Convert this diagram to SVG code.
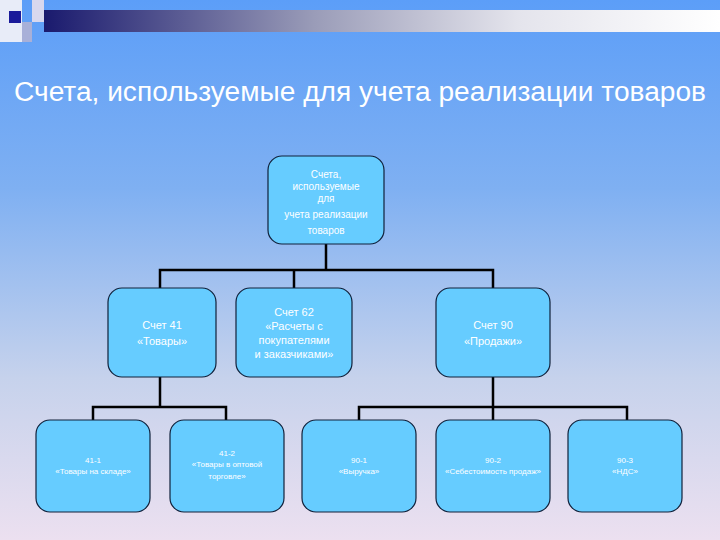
<svg xmlns="http://www.w3.org/2000/svg" width="720" height="540" viewBox="0 0 720 540">
<defs>
<linearGradient id="bg" x1="0" y1="0" x2="0" y2="1">
<stop offset="0" stop-color="#5c9ef8"/><stop offset="0.35" stop-color="#7fb0f2"/><stop offset="0.7" stop-color="#c6d2ec"/><stop offset="1" stop-color="#ece0f0"/>
</linearGradient>
<linearGradient id="bar" x1="0" y1="0" x2="1" y2="0">
<stop offset="0" stop-color="#1a1a6e"/><stop offset="0.4" stop-color="#9a9cb8"/><stop offset="0.7" stop-color="#e4e4ec"/><stop offset="1" stop-color="#ffffff"/>
</linearGradient>
<style>
.n rect{fill:#66ccff;stroke:#10203a;stroke-width:1.2}
.n text{fill:#ffffff;font-family:"Liberation Sans",Arial,sans-serif;text-anchor:middle}
.c path{fill:none;stroke:#000;stroke-width:2.5}
</style>
</defs>
<rect width="720" height="540" fill="url(#bg)"/>
<rect x="0" y="0" width="22" height="42" fill="#e8ecf8"/>
<rect x="9" y="11" width="12" height="12" fill="#1a1a9a"/>
<rect x="32" y="0" width="12" height="22" fill="#d8d8ee"/>
<rect x="22" y="22" width="10" height="20" fill="#a8b0d8"/>
<rect x="44" y="10" width="676" height="22" fill="url(#bar)"/>
<text x="360" y="101" font-family="Liberation Sans,Arial,sans-serif" font-size="27" fill="#fff" text-anchor="middle" textLength="692" lengthAdjust="spacingAndGlyphs">Счета, используемые для учета реализации товаров</text>
<g class="c">
<path d="M326 244V270M160 288V270H493V288M294 270V288"/>
<path d="M160 377V407M93 420V407H226V420"/>
<path d="M493 377V407M359 420V407H627V420M493 407V420"/>
</g>
<g id="top" class="n"><rect x="268" y="156" width="116" height="88" rx="14"/>
<text font-size="10"><tspan x="326" y="178">Счета,</tspan><tspan x="326" y="190">используемые</tspan><tspan x="326" y="202">для</tspan><tspan x="326" y="218">учета реализации</tspan><tspan x="326" y="234">товаров</tspan></text></g>
<g id="s41" class="n"><rect x="108" y="288" width="108" height="89" rx="14"/>
<text font-size="11"><tspan x="162" y="329">Счет 41</tspan><tspan x="162" y="345">«Товары»</tspan></text></g>
<g id="s62" class="n"><rect x="236" y="288" width="116" height="89" rx="14"/>
<text font-size="11"><tspan x="294" y="316">Счет 62</tspan><tspan x="294" y="330">«Расчеты с</tspan><tspan x="294" y="344">покупателями</tspan><tspan x="294" y="358">и заказчиками»</tspan></text></g>
<g id="s90" class="n"><rect x="436" y="288" width="114" height="89" rx="14"/>
<text font-size="11"><tspan x="493" y="329">Счет 90</tspan><tspan x="493" y="345">«Продажи»</tspan></text></g>
<g id="s411" class="n"><rect x="36" y="420" width="114" height="92" rx="14"/>
<text font-size="8"><tspan x="93" y="463">41-1</tspan><tspan x="93" y="474">«Товары на складе»</tspan></text></g>
<g id="s412" class="n"><rect x="170" y="420" width="114" height="92" rx="14"/>
<text font-size="8"><tspan x="227" y="456">41-2</tspan><tspan x="227" y="467">«Товары в оптовой</tspan><tspan x="227" y="479">торговле»</tspan></text></g>
<g id="s901" class="n"><rect x="302" y="420" width="114" height="92" rx="14"/>
<text font-size="8"><tspan x="359" y="463">90-1</tspan><tspan x="359" y="474">«Выручка»</tspan></text></g>
<g id="s902" class="n"><rect x="436" y="420" width="114" height="92" rx="14"/>
<text font-size="8"><tspan x="493" y="463">90-2</tspan><tspan x="493" y="474">«Себестоимость продаж»</tspan></text></g>
<g id="s903" class="n"><rect x="568" y="420" width="114" height="92" rx="14"/>
<text font-size="8"><tspan x="625" y="463">90-3</tspan><tspan x="625" y="474">«НДС»</tspan></text></g>
</svg>
